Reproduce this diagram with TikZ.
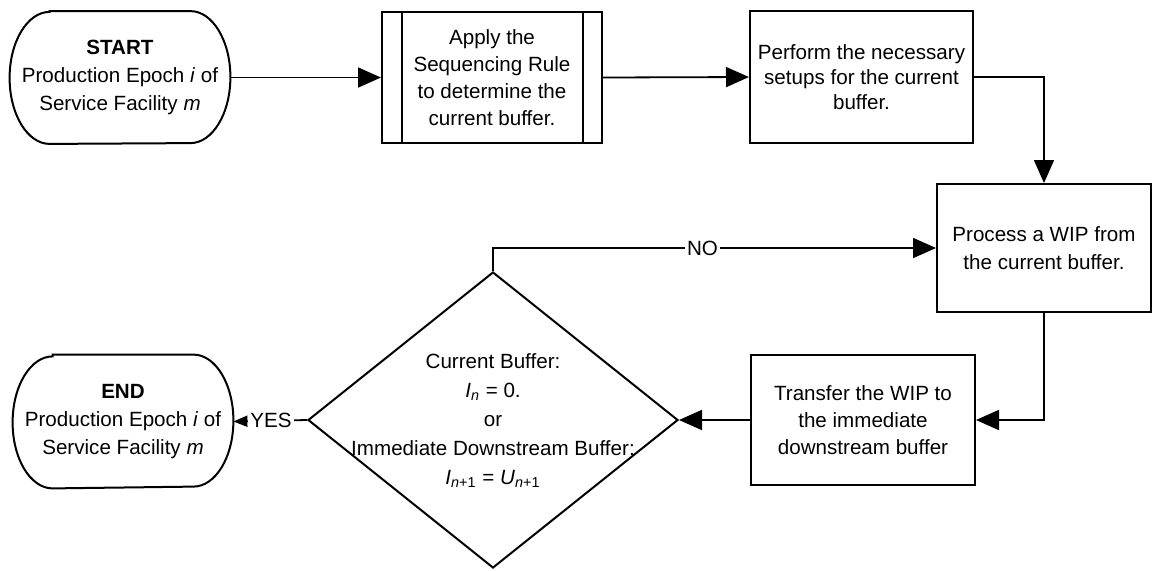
\documentclass[tikz,border=0pt]{standalone}
\usepackage{fontspec}
\setmainfont{Liberation Sans}
\usetikzlibrary{arrows.meta,shapes.geometric,calc}
\newcommand\termshape[1]{%
  \draw[line width=1pt] ([xshift=20pt]#1.north west) -- ([xshift=-20pt]#1.north east)
    arc[start angle=90, end angle=-90, x radius=20pt, y radius=33pt]
    -- ([xshift=20pt]#1.south west)
    arc[start angle=270, end angle=90, x radius=20pt, y radius=33pt] -- cycle;}
\begin{document}
\begin{tikzpicture}[x=0.5pt,y=-0.5pt,
  font=\fontsize{10.3}{12.5}\selectfont,
  every node/.style={inner sep=0pt, align=center},
  box/.style={draw, line width=1pt, fill=white},
  term/.style={minimum width=110pt, minimum height=66pt, font=\fontsize{10.3}{14}\selectfont},
  decision/.style={draw, line width=1pt, shape=diamond, minimum width=185pt, minimum height=148pt},
  arr/.style={line width=0.9pt, -{Triangle[length=11.5pt,width=10pt]}},
  smallarr/.style={line width=0.9pt, -{Triangle[length=7pt,width=5.5pt]}},
  lbl/.style={fill=white, inner sep=1pt}]
\useasboundingbox (0,0) rectangle (1153,570);
\fill[white] (0,0) rectangle (1153,570);

% nodes
\node[term] (start) at (120,77.5) {\textbf{START}\\Production Epoch \textit{i} of\\Service Facility \textit{m}};
\termshape{start}
\node[box, minimum width=110pt, minimum height=65.5pt, font=\fontsize{10.3}{13.5}\selectfont] (seq) at (492,77.5) {Apply the\\Sequencing Rule\\to determine the\\current buffer.};
\draw[line width=1pt] ([xshift=10.5pt]seq.north west) -- ([xshift=10.5pt]seq.south west);
\draw[line width=1pt] ([xshift=-10pt]seq.north east) -- ([xshift=-10pt]seq.south east);
\node[box, minimum width=111.5pt, minimum height=66pt] (setup) at (861.5,77) {Perform the necessary\\setups for the current\\buffer.};
\node[box, minimum width=107pt, minimum height=64pt, font=\fontsize{10.3}{14}\selectfont] (proc) at (1044,248) {Process a WIP from\\the current buffer.};
\node[box, minimum width=112pt, minimum height=65pt, font=\fontsize{10.3}{13.5}\selectfont] (trans) at (863,420) {Transfer the WIP to\\the immediate\\downstream buffer};
\node[decision] (dia) at (493,420) {};
\node[font=\fontsize{10.3}{14.5}\selectfont] (diatext) at (493,421) {Current Buffer:\\\textit{I}\textsubscript{\textit{n}} = 0.\\or\\Immediate Downstream Buffer:\\\textit{I}\textsubscript{\textit{n}+1} = \textit{U}\textsubscript{\textit{n}+1}};
\node[term, minimum height=66.5pt] (end) at (123,421.5) {\textbf{END}\\Production Epoch \textit{i} of\\Service Facility \textit{m}};
\termshape{end}

% connectors
\draw[arr] (start.east) -- (seq.west);
\draw[arr] (seq.east) -- (setup.west);
\draw[arr] (setup.east) -| (proc.north);
\draw[arr] (proc.south) |- (trans.east);
\draw[arr] (trans.west) -- (dia.east);
\draw[arr] (dia.north) -- (dia.north |- proc.west) -- node[lbl, pos=0.473] {NO} (proc.west);
\draw[smallarr] (dia.west) -- node[lbl, pos=0.49] {YES} (end.east);
\end{tikzpicture}
\end{document}
